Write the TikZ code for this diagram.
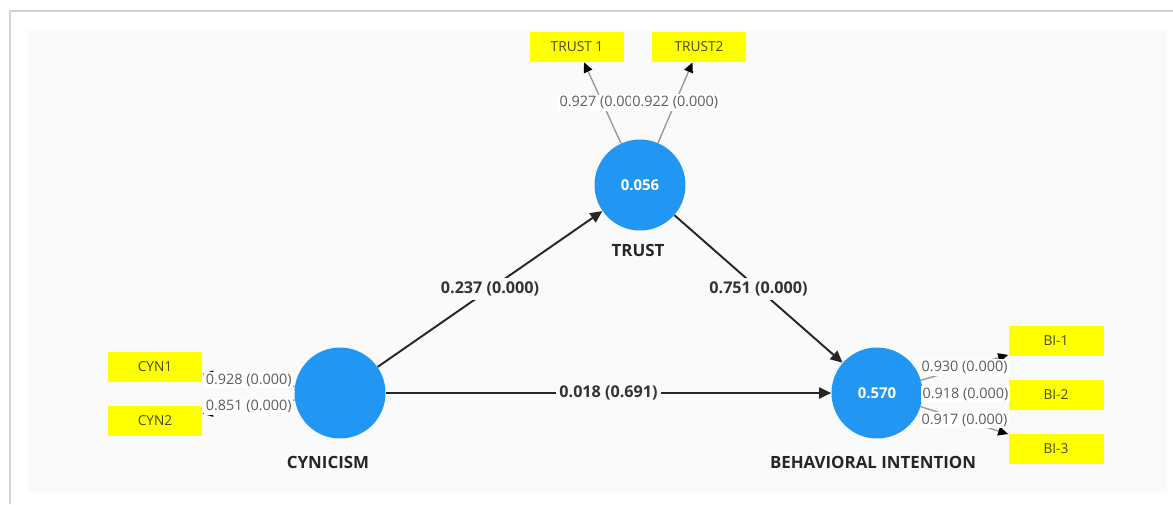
\documentclass[tikz,border=0pt]{standalone}
\usepackage{fontspec}
\setmainfont{Open Sans}
\usepackage{tikz}
\usetikzlibrary{arrows.meta,positioning}
\definecolor{plsBlue}{HTML}{2196F3}
\definecolor{plsYellow}{HTML}{FFFF00}
\definecolor{plsOlive}{HTML}{4A4A10}
\definecolor{plsPanel}{HTML}{FAFAFA}
\definecolor{plsEdge}{HTML}{D4D4D4}
\definecolor{plsGrey}{HTML}{5C5C5C}
\definecolor{plsLine}{HTML}{9A9A9A}

\begin{document}
\begin{tikzpicture}[x=0.02cm,y=-0.02cm,
  lv/.style={circle,fill=plsBlue,minimum size=1.82cm,inner sep=0pt,
             text=white,font=\fontsize{8.5}{10}\selectfont\bfseries},
  ind/.style={fill=plsYellow,minimum width=1.9cm,minimum height=0.6cm,inner sep=0pt,
              text=plsOlive,font=\fontsize{7.8}{9}\selectfont},
  lvname/.style={font=\fontsize{9.6}{11}\selectfont\bfseries,text=black!85},
  a/.style={-{Triangle[length=2.4mm,width=2.2mm]},black!85,line width=1.1pt},
  m/.style={-{Triangle[length=2mm,width=1.8mm,color=black]},plsLine,line width=0.8pt},
  w/.style={fill=white,inner sep=1pt,text=plsGrey,font=\fontsize{8.2}{9}\selectfont},
  p/.style={fill=plsPanel,inner sep=2pt,text=black!80,font=\fontsize{9.2}{10}\selectfont\bfseries}]
\useasboundingbox (0,0) rectangle (1173,504);
% frame
\fill[white] (0,0) rectangle (1173,504);
\draw[plsEdge,line width=1.2pt] (10,504) -- (10,11) -- (1173,11);
\fill[plsPanel] (28,30) rectangle (1167,492);
% constructs
\node[lv] (trust) at (640,185) {0.056};
\node[lv] (cyn) at (340,393) {};
\node[lv] (bi) at (877,393) {0.570};
\node[lvname] (trustlab) at (638,250) {TRUST};
\node[lvname] (cynlab) at (328,462) {CYNICISM};
\node[lvname] (bilab) at (873,462) {BEHAVIORAL INTENTION};
% indicators
\node[ind] (t1) at (577,47) {TRUST 1};
\node[ind] (t2) at (699,47) {TRUST2};
\node[ind] (c1) at (155,367) {CYN1};
\node[ind] (c2) at (155,421) {CYN2};
\node[ind] (b1) at (1056,341) {BI-1};
\node[ind] (b2) at (1056,395) {BI-2};
\node[ind] (b3) at (1056,449) {BI-3};
% outer loadings
\draw[m] (trust) -- node[w] {0.927 (0.000)} (t1);
\draw[m] (trust) -- node[w] {0.922 (0.000)} (t2);
\draw[m] (cyn) -- node[w] {0.928 (0.000)} (c1);
\draw[m] (cyn) -- node[w] {0.851 (0.000)} (c2);
\draw[m] (bi) -- node[w] {0.930 (0.000)} (b1);
\draw[m] (bi) -- node[w] {0.918 (0.000)} (b2);
\draw[m] (bi) -- node[w] {0.917 (0.000)} (b3);
% paths
\draw[a] (cyn) -- node[p] {0.237 (0.000)} (trust);
\draw[a] (trust) -- node[p] {0.751 (0.000)} (bi);
\draw[a] (cyn) -- node[p] {0.018 (0.691)} (bi);
\end{tikzpicture}
\end{document}
